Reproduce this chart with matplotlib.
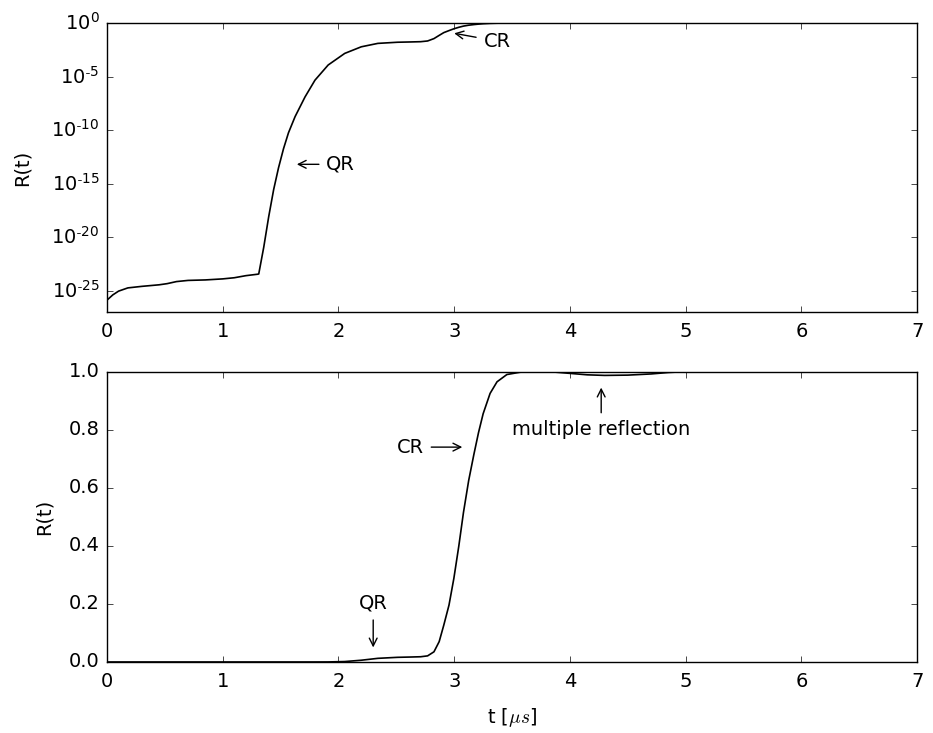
import numpy as np
import matplotlib
matplotlib.use("Agg")
import matplotlib.pyplot as plt
from matplotlib.ticker import NullLocator, FuncFormatter

plt.style.use("classic")
plt.rcParams["figure.facecolor"] = "white"
plt.rcParams["savefig.facecolor"] = "white"
plt.rcParams["font.size"] = 14
plt.rcParams["xtick.major.pad"] = 7
plt.rcParams["ytick.major.pad"] = 5.5

# reflectance R(t), t in microseconds
t = [0.00, 0.05, 0.10, 0.18, 0.30, 0.45, 0.52, 0.60, 0.70, 0.85,
     1.00, 1.10, 1.20, 1.30, 1.311, 1.354, 1.397, 1.44, 1.482, 1.525,
     1.568, 1.625, 1.711, 1.797, 1.911, 2.054, 2.197, 2.34, 2.51, 2.62,
     2.71, 2.77, 2.825, 2.87, 2.91, 2.955, 2.997, 3.04, 3.08, 3.125,
     3.17, 3.21, 3.25, 3.31, 3.37, 3.455, 3.57, 3.70, 3.85, 4.00,
     4.15, 4.30, 4.50, 4.70, 4.85, 5.00]
R = [1.3e-26, 4e-26, 9e-26, 1.8e-25, 2.5e-25, 3.5e-25, 4.5e-25, 7e-25, 9e-25, 1.0e-24,
     1.25e-24, 1.6e-24, 2.5e-24, 3.4e-24, 3.6e-24, 1.1e-21, 8e-19, 2.8e-16, 3e-14, 1.8e-12,
     5.6e-11, 1.8e-9, 1.25e-7, 4.6e-6, 1.2e-4, 1.45e-3, 6e-3, 1.25e-2, 1.6e-2, 1.7e-2,
     1.8e-2, 2.1e-2, 3.5e-2, 7e-2, 0.127, 0.196, 0.288, 0.40, 0.515, 0.625,
     0.715, 0.79, 0.855, 0.925, 0.965, 0.99, 0.998, 1.0, 0.999, 0.994,
     0.989, 0.987, 0.988, 0.992, 0.997, 1.0]

log_ticks = [1e-25, 1e-20, 1e-15, 1e-10, 1e-5, 1e0]
lin_ticks = [0.0, 0.2, 0.4, 0.6, 0.8, 1.0]
t_ticks = [0, 1, 2, 3, 4, 5, 6, 7]


def pow_label(v, pos):
    e = int(round(np.log10(v)))
    if e < 0:
        return r"$\mathregular{10^{\text{-}%d}}$" % (-e)
    return r"$\mathregular{10^{%d}}$" % e


fig = plt.figure(figsize=(9.33, 7.33), dpi=100)
ax1 = fig.add_axes([0.1147, 0.5743, 0.8683, 0.3943])
ax2 = fig.add_axes([0.1147, 0.0969, 0.8683, 0.3961])

arrow = dict(arrowstyle="->", color="k", lw=1.0, shrinkA=3, shrinkB=0)

# top: log scale
ax1.semilogy(t, R, color="k", lw=1.2)
ax1.set_xlim(0, 7)
ax1.set_ylim(1e-27, 1)
ax1.set_yticks(log_ticks)
ax1.yaxis.set_major_formatter(FuncFormatter(pow_label))
ax1.yaxis.set_minor_locator(NullLocator())
ax1.set_xticks(t_ticks)
ax1.set_ylabel("R(t)", labelpad=14)
ax1.annotate("QR", xy=(1.64, 10**-13.2), xytext=(2.02, 10**-13.2),
             ha="center", va="center", arrowprops=arrow)
ax1.annotate("CR", xy=(3.0, 10**-0.96), xytext=(3.37, 10**-1.69),
             ha="center", va="center", arrowprops=arrow)

# bottom: linear scale
ax2.plot(t, R, color="k", lw=1.2)
ax2.set_xlim(0, 7)
ax2.set_ylim(0, 1)
ax2.set_yticks(lin_ticks)
ax2.set_xticks(t_ticks)
ax2.set_ylabel("R(t)", labelpad=11)
ax2.set_xlabel(r"t [$\mu s$]", labelpad=11)
ax2.annotate("CR", xy=(3.07, 0.74), xytext=(2.62, 0.74),
             ha="center", va="center", arrowprops=arrow)
ax2.annotate("QR", xy=(2.30, 0.05), xytext=(2.30, 0.203),
             ha="center", va="center", arrowprops=arrow)
ax2.annotate("multiple reflection", xy=(4.27, 0.945), xytext=(4.27, 0.80),
             ha="center", va="center", arrowprops=arrow)

fig.savefig("out.png", dpi=100)
